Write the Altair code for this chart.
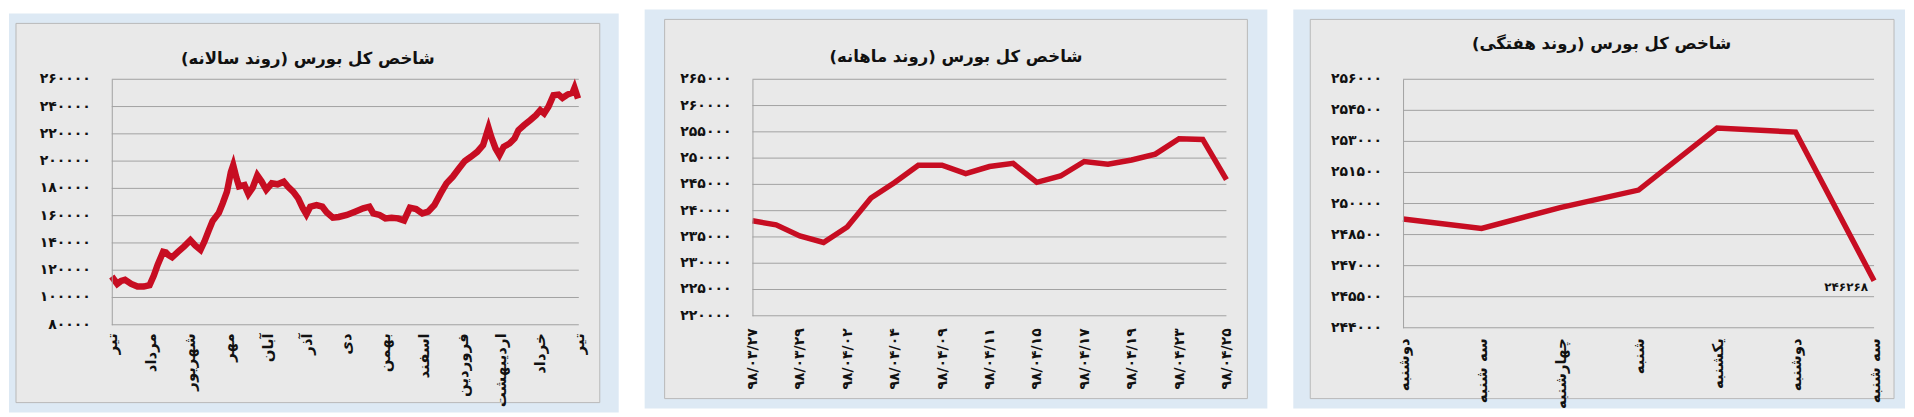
import altair as alt
import pandas as pd

FONT = "DejaVu Sans"
RED = "#c70d22"
BLUE = "#dde9f4"
GREY = "#e9e9e9"
BORDER = "#b9b9b9"
GRIDC = "#a2a2a2"
INK = "#111111"

# ---------------- Panel 1: yearly trend ----------------
year_t = [0.00, 0.14, 0.24, 0.34, 0.50, 0.66, 0.82, 0.97, 1.08, 1.18, 1.32, 1.39, 1.46, 1.55,
          1.70, 1.86, 2.02, 2.15, 2.28, 2.38, 2.49, 2.59, 2.75, 2.85, 2.96, 3.06, 3.12, 3.20,
          3.27, 3.41, 3.51, 3.62, 3.74, 3.85, 3.97, 4.11, 4.26, 4.42, 4.53, 4.66, 4.79, 4.91,
          5.00, 5.10, 5.26, 5.41, 5.52, 5.68, 5.83, 6.04, 6.25, 6.46, 6.62, 6.72, 6.88, 7.03,
          7.19, 7.35, 7.51, 7.66, 7.82, 7.98, 8.13, 8.29, 8.45, 8.60, 8.76, 8.92, 9.07, 9.23,
          9.39, 9.54, 9.68, 9.75, 9.86, 9.96, 10.07, 10.22, 10.35, 10.45, 10.59, 10.75, 10.90,
          11.01, 11.11, 11.22, 11.35, 11.48, 11.58, 11.71, 11.84, 11.89, 11.98]
year_v = [115400, 110000, 112200, 113000, 110000, 108000, 108000, 109000, 116000, 124000,
          133500, 133000, 131000, 129500, 133500, 137500, 142000, 138000, 134900, 141000,
          149000, 156000, 162000, 169000, 177600, 192000, 197000, 188000, 181500, 182400,
          176000, 180500, 189500, 185000, 179000, 183700, 183000, 184900, 181200, 177600,
          172700, 165400, 161000, 166600, 167800, 166600, 162500, 158500, 159000, 160500,
          162900, 165400, 166600, 161700, 160500, 158000, 158500, 158000, 156500, 165900,
          164900, 161700, 162900, 167800, 176300, 183700, 188500, 194600, 200000, 203200,
          206800, 211700, 224400, 217800, 209300, 204400, 210500, 212900, 216600, 222700,
          226300, 230000, 233700, 237300, 234900, 239800, 248300, 248800, 246300, 248800,
          250200, 253700, 245900]
year_xticks = list(range(13))
year_xlabels = ["تیر", "مرداد", "شهریور", "مهر", "آبان", "آذر", "دی", "بهمن", "اسفند",
                "فروردین", "اردیبهشت", "خرداد", "تیر"]
year_yticks = [80000, 100000, 120000, 140000, 160000, 180000, 200000, 220000, 240000, 260000]
year_ylabels = ["۸۰۰۰۰", "۱۰۰۰۰۰", "۱۲۰۰۰۰", "۱۴۰۰۰۰", "۱۶۰۰۰۰", "۱۸۰۰۰۰", "۲۰۰۰۰۰",
                "۲۲۰۰۰۰", "۲۴۰۰۰۰", "۲۶۰۰۰۰"]

# ---------------- Panel 2: monthly trend ----------------
month_v = [238070, 237300, 235200, 233950, 236900, 242400, 245350, 248650, 248650, 247060,
           248400, 249000, 245400, 246600, 249350, 248850, 249650, 250750, 253700, 253550,
           245900]
month_xticks = [0, 2, 4, 6, 8, 10, 12, 14, 16, 18, 20]
month_xlabels = ["۹۸/۰۳/۲۷", "۹۸/۰۳/۲۹", "۹۸/۰۴/۰۲", "۹۸/۰۴/۰۴", "۹۸/۰۴/۰۹", "۹۸/۰۴/۱۱",
                 "۹۸/۰۴/۱۵", "۹۸/۰۴/۱۷", "۹۸/۰۴/۱۹", "۹۸/۰۴/۲۳", "۹۸/۰۴/۲۵"]
month_yticks = [220000, 225000, 230000, 235000, 240000, 245000, 250000, 255000, 260000, 265000]
month_ylabels = ["۲۲۰۰۰۰", "۲۲۵۰۰۰", "۲۳۰۰۰۰", "۲۳۵۰۰۰", "۲۴۰۰۰۰", "۲۴۵۰۰۰", "۲۵۰۰۰۰",
                 "۲۵۵۰۰۰", "۲۶۰۰۰۰", "۲۶۵۰۰۰"]

# ---------------- Panel 3: weekly trend ----------------
week_v = [249250, 248800, 249800, 250650, 253650, 253450, 246268]
week_xticks = [0, 1, 2, 3, 4, 5, 6]
week_xlabels = ["دوشنبه", "سه شنبه", "چهارشنبه", "شنبه", "یکشنبه", "دوشنبه", "سه شنبه"]
week_yticks = [244000, 245500, 247000, 248500, 250000, 251500, 253000, 254500, 256000]
week_ylabels = ["۲۴۴۰۰۰", "۲۴۵۵۰۰", "۲۴۷۰۰۰", "۲۴۸۵۰۰", "۲۵۰۰۰۰", "۲۵۱۵۰۰", "۲۵۳۰۰۰",
                "۲۵۴۵۰۰", "۲۵۶۰۰۰"]
week_last_label = "۲۴۶۲۶۸"

titles = ["شاخص کل بورس (روند سالانه)", "شاخص کل بورس (روند ماهانه)",
          "شاخص کل بورس (روند هفتگی)"]


def lookup_expr(keys, labels):
    ks = ",".join(str(k) for k in keys)
    ls = ",".join("'" + s + "'" for s in labels)
    return f"[{ls}][indexof([{ks}], datum.value)]"


def panel(df, x_dom, x_ticks, x_labels, y_dom, y_ticks, y_labels, W, H,
          blue, grey, title, txy, line_w, xfont, xweight, xpad, extra=None):
    xscale = alt.Scale(domain=x_dom, nice=False, zero=False)
    yscale = alt.Scale(domain=y_dom, nice=False, zero=False)
    yaxis = alt.Axis(values=y_ticks, labels=False, title=None, tickCount=40,
                     grid=False, ticks=False, tickSize=0, domain=True, domainColor=GRIDC,
                     domainWidth=1, zindex=1)
    xaxis = alt.Axis(values=x_ticks, labelExpr=lookup_expr(x_ticks, x_labels), title=None,
                     tickCount=40, grid=False, ticks=False, tickSize=0, domain=False,
                     labelAngle=-90, labelFont=FONT, labelFontWeight=xweight,
                     labelFontSize=xfont, labelColor=INK, labelPadding=xpad, labelFlush=False,
                     labelOverlap=False, zindex=1)
    one = pd.DataFrame({"a": [0]})
    ticks_df = pd.DataFrame({"v": y_ticks, "lab": y_labels})
    bg = alt.Chart(one).mark_rect(fill=BLUE).encode(
        x=alt.value(blue[0]), x2=alt.value(blue[1]), y=alt.value(blue[2]), y2=alt.value(blue[3]))
    card = alt.Chart(one).mark_rect(fill=GREY, stroke=BORDER, strokeWidth=1).encode(
        x=alt.value(grey[0]), x2=alt.value(grey[1]), y=alt.value(grey[2]), y2=alt.value(grey[3]))
    grid = alt.Chart(ticks_df).mark_rule(color=GRIDC, strokeWidth=1).encode(
        y=alt.Y("v:Q", scale=yscale, axis=yaxis), x=alt.value(0), x2=alt.value(W))
    ylabs = alt.Chart(ticks_df).mark_text(align="right", baseline="middle", font=FONT,
                                          fontSize=14, fontWeight="bold", color=INK).encode(
        y=alt.Y("v:Q", scale=yscale, axis=yaxis), x=alt.value(-21), text="lab:N")
    line = alt.Chart(df).mark_line(color=RED, strokeWidth=line_w, strokeJoin="miter").encode(
        x=alt.X("t:Q", scale=xscale, axis=xaxis), y=alt.Y("v:Q", scale=yscale, axis=yaxis))
    ttl = alt.Chart(one).mark_text(text=title, font=FONT, fontSize=16.5, fontWeight="bold",
                                   dir="rtl", align="center", baseline="middle",
                                   color=INK).encode(x=alt.value(txy[0]), y=alt.value(txy[1]))
    layers = [bg, card, grid, ylabs, line]
    if extra is not None:
        layers.append(extra(xscale, yscale))
    layers.append(ttl)
    return alt.layer(*layers).properties(width=W, height=H)


df1 = pd.DataFrame({"t": year_t, "v": year_v})
df2 = pd.DataFrame({"t": list(range(len(month_v))), "v": month_v})
df3 = pd.DataFrame({"t": week_xticks, "v": week_v})


def week_note(xscale, yscale):
    d = pd.DataFrame({"t": [week_xticks[-1]], "v": [week_v[-1]], "lab": [week_last_label]})
    return alt.Chart(d).mark_text(align="right", baseline="middle", dx=-6, dy=6, font=FONT,
                                  fontSize=12, fontWeight="bold", color=INK).encode(
        x=alt.X("t:Q", scale=xscale), y=alt.Y("v:Q", scale=yscale), text="lab:N")


p1 = panel(df1, [0, 12], year_xticks, year_xlabels, [80000, 260000], year_yticks, year_ylabels,
           468, 246, (-103, 508, -66, 334), (-96, 489, -56, 324), titles[0], (196.5, -20),
           6.5, 15, "bold", 8)
p2 = panel(df2, [0, 20], month_xticks, month_xlabels, [220000, 265000], month_yticks,
           month_ylabels, 475, 237, (-108, 516, -70, 330), (-88, 496, -60, 320), titles[1],
           (204, -22), 5.5, 14, "bold", 12)
p3 = panel(df3, [0, 6], week_xticks, week_xlabels, [244000, 256000], week_yticks, week_ylabels,
           472, 249, (-110, 503, -70, 330), (-93, 492, -60, 320), titles[2], (199, -35),
           5.5, 15, "bold", 10, extra=week_note)

chart = alt.hconcat(p1, p2, p3, spacing=24).properties(padding=0).configure_view(
    stroke=None).configure(background="white")

chart.save("out.html", embed_options={"renderer": "svg", "actions": False})
